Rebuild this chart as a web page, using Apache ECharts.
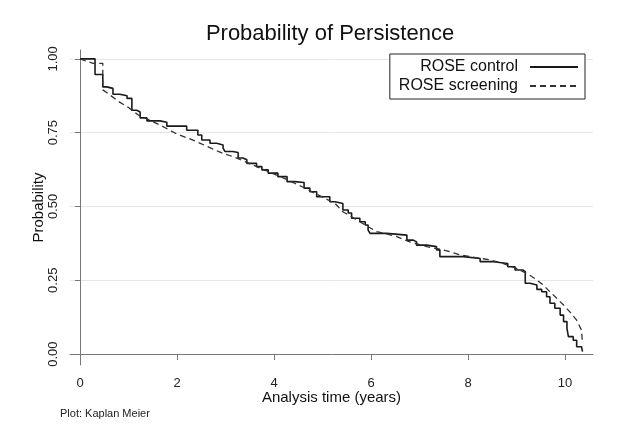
<!DOCTYPE html>
<html>
<head>
<meta charset="utf-8">
<script src="https://cdn.jsdelivr.net/npm/echarts@6/dist/echarts.min.js"></script>
<style>
  html, body { margin: 0; padding: 0; background: #fff; }
  #chart { width: 635px; height: 432px; }
</style>
</head>
<body>
<div id="chart"></div>
<script>
// Kaplan-Meier estimates (time in years, survival)
const controlTime = [0, 0.31, 0.47, 0.55, 0.68, 0.82, 0.97, 1.07, 1.17, 1.24, 1.38, 1.65, 1.79, 2.2,
  2.43, 2.51, 2.68, 2.82, 2.95, 2.99, 3.15, 3.26, 3.36, 3.44, 3.64, 3.75, 3.88, 4.08, 4.27, 4.43,
  4.62, 4.74, 4.88, 5.15, 5.26, 5.42, 5.53, 5.6, 5.77, 5.88, 5.94, 5.98, 6.32, 6.74, 6.87, 6.94,
  7.15, 7.35, 7.42, 7.9, 8.25, 8.52, 8.82, 8.97, 9.13, 9.18, 9.28, 9.42, 9.52, 9.62, 9.69, 9.79,
  9.9, 9.97, 10.04, 10.07, 10.17, 10.24, 10.34, 10.36];
const controlSurv = [1.0, 0.947, 0.905, 0.9, 0.88, 0.875, 0.866, 0.826, 0.82, 0.8, 0.79, 0.785, 0.772, 0.758,
  0.742, 0.725, 0.714, 0.708, 0.698, 0.686, 0.683, 0.664, 0.658, 0.646, 0.635, 0.624, 0.613, 0.601, 0.584, 0.581,
  0.562, 0.55, 0.533, 0.516, 0.51, 0.488, 0.478, 0.46, 0.448, 0.437, 0.42, 0.409, 0.403, 0.386, 0.38, 0.369,
  0.364, 0.353, 0.33, 0.324, 0.313, 0.307, 0.296, 0.285, 0.279, 0.24, 0.234, 0.219, 0.211, 0.194, 0.172, 0.155,
  0.132, 0.11, 0.087, 0.059, 0.047, 0.025, 0.019, 0.008];

// screening curve has many tiny steps; traced as a polyline
const screenTime = [0, 0.27, 0.47, 0.47, 0.6, 0.8, 1.0, 1.2, 1.4, 1.65, 2.0, 2.33, 2.6, 2.9, 3.15, 3.4, 3.8,
  4.2, 4.6, 4.9, 5.26, 5.42, 5.65, 5.88, 6.12, 6.53, 6.8, 7.15, 7.49, 7.84, 8.04, 8.45, 8.72, 9.0,
  9.21, 9.38, 9.55, 9.69, 9.83, 9.97, 10.1, 10.24, 10.34, 10.36];
const screenSurv = [1.0, 0.985, 0.985, 0.895, 0.88, 0.855, 0.835, 0.81, 0.795, 0.776, 0.745, 0.725, 0.705, 0.683, 0.669, 0.652, 0.624,
  0.596, 0.565, 0.54, 0.51, 0.482, 0.46, 0.437, 0.415, 0.398, 0.38, 0.364, 0.353, 0.336, 0.33, 0.319, 0.307, 0.29,
  0.273, 0.256, 0.234, 0.211, 0.189, 0.166, 0.143, 0.115, 0.081, 0.036];

const xTicks = [0, 2, 4, 6, 8, 10];
const yTicks = [0, 0.25, 0.5, 0.75, 1];

const zip = (a, b) => a.map((v, i) => [v, b[i]]);

const chart = echarts.init(document.getElementById('chart'));

chart.setOption({
  animation: false,
  backgroundColor: '#fff',
  textStyle: { fontFamily: 'Liberation Sans, Arial, sans-serif' },
  title: [
    {
      text: 'Probability of Persistence',
      left: 330,
      textAlign: 'center',
      top: 23,
      padding: 0,
      textStyle: { fontSize: 22, fontWeight: 'normal', color: '#111' }
    },
    {
      text: 'Plot: Kaplan Meier',
      left: 60,
      top: 408,
      padding: 0,
      textStyle: { fontSize: 11, fontWeight: 'normal', color: '#222' }
    }
  ],
  legend: {
    orient: 'vertical',
    right: 50,
    top: 54,
    align: 'right',
    itemWidth: 48,
    itemHeight: 10,
    itemGap: 3,
    padding: [5, 6, 5, 9],
    borderColor: '#222',
    borderWidth: 1,
    backgroundColor: '#fff',
    itemStyle: { opacity: 0 },
    textStyle: { fontSize: 16, color: '#111', width: 122, align: 'right', padding: [0, 7, 0, 0] },
    data: ['ROSE control', 'ROSE screening']
  },
  grid: { left: 70, right: 42, top: 50, bottom: 67 },
  xAxis: {
    type: 'value',
    min: -0.206,
    max: 10.577,
    name: 'Analysis time (years)',
    nameLocation: 'middle',
    nameGap: 25,
    nameMoveOverlap: false,
    nameTextStyle: { fontSize: 15, color: '#111' },
    axisLine: { lineStyle: { color: '#777', width: 1 } },
    axisTick: { customValues: xTicks, length: 6, lineStyle: { color: '#777' } },
    axisLabel: { customValues: xTicks, fontSize: 13, color: '#222', margin: 12 },
    splitLine: { show: false }
  },
  yAxis: {
    type: 'value',
    min: -0.037,
    max: 1.03,
    name: 'Probability',
    nameLocation: 'middle',
    nameGap: 24,
    nameMoveOverlap: false,
    nameTextStyle: { fontSize: 15, color: '#111' },
    axisLine: { show: true, lineStyle: { color: '#777', width: 1 } },
    axisTick: { show: true, customValues: yTicks, length: 5, lineStyle: { color: '#777' } },
    axisLabel: {
      customValues: yTicks,
      rotate: 90,
      fontSize: 13,
      color: '#222',
      margin: 10,
      formatter: v => v.toFixed(2)
    },
    splitLine: { show: true, lineStyle: { color: '#e6e6e6', width: 1 } }
  },
  series: [
    {
      name: 'ROSE control',
      type: 'line',
      step: 'end',
      symbol: 'none',
      data: zip(controlTime, controlSurv),
      lineStyle: { color: '#1a1a1a', width: 1.6 },
      itemStyle: { color: '#1a1a1a' }
    },
    {
      name: 'ROSE screening',
      type: 'line',
      symbol: 'none',
      data: zip(screenTime, screenSurv),
      lineStyle: { color: '#333', width: 1.3, type: [6, 4] },
      itemStyle: { color: '#333' }
    }
  ]
});
</script>
</body>
</html>
